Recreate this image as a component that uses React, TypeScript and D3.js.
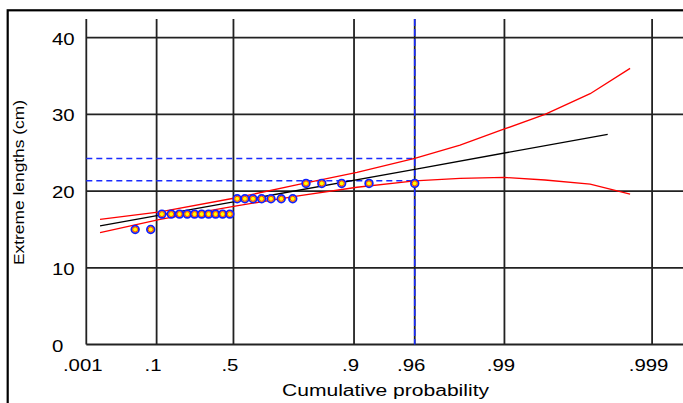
import React from "react";
import * as d3 from "d3";

// Gumbel probability paper: x = -ln(-ln p)
const TICK_P = [0.001, 0.1, 0.5, 0.9, 0.96, 0.99, 0.999];
const TICK_LABELS = [".001", ".1", ".5", ".9", ".96", ".99", ".999"];
const Y_TICKS = [0, 10, 20, 30, 40];

// observed extremes, plotting position i/(n+1)
const OBS_P = [0.04, 0.08, 0.12, 0.16, 0.2, 0.24, 0.28, 0.32, 0.36, 0.4, 0.44, 0.48,
  0.52, 0.56, 0.6, 0.64, 0.68, 0.72, 0.76, 0.8, 0.84, 0.88, 0.92, 0.96];
const OBS_LEN = [15, 15, 17, 17, 17, 17, 17, 17, 17, 17, 17, 17,
  19, 19, 19, 19, 19, 19, 19, 21, 21, 21, 21, 21];

// fitted line
const FIT_P = [0.0038, 0.5, 0.96, 0.998];
const FIT_LEN = [15.46, 18.59, 22.84, 27.4];

// confidence band
const BAND_P = [0.0038, 0.1126, 0.5084, 0.7827, 0.9043, 0.96, 0.9801, 0.99, 0.99468, 0.99737, 0.99859];
const UPPER = [16.3, 17.3, 19.1, 20.9, 22.45, 24.26, 26.0, 28.1, 30.0, 32.7, 36.0];
const LOWER = [14.6, 16.3, 18.05, 19.4, 20.5, 21.34, 21.65, 21.78, 21.45, 20.9, 19.6];

// return level marked on the plot
const REF_P = 0.96;
const REF_UPPER = 24.26;
const REF_LOWER = 21.34;

const W = 683;
const H = 403;
const LEFT = 86.3;
const RIGHT = 652.1;
const TOP = 19;
const FONT = "'Liberation Sans', Arial, sans-serif";

const gumbel = (p: number) => -Math.log(-Math.log(p));

export default function App() {
  const xs = d3.scaleLinear().domain([gumbel(0.001), gumbel(0.999)]).range([LEFT, RIGHT]);
  const X = (p: number) => xs(gumbel(p));
  const y = d3.scaleLinear().domain([0, 40]).range([344.5, 37.7]);
  const y0 = y(0);

  const line = d3.line<[number, number]>().x(d => X(d[0])).y(d => y(d[1]));
  const fit = line(FIT_P.map((p, i) => [p, FIT_LEN[i]]))!;
  const upper = line(BAND_P.map((p, i) => [p, UPPER[i]]))!;
  const lower = line(BAND_P.map((p, i) => [p, LOWER[i]]))!;

  const grid = "#222";

  return (
    <svg width={W} height={H} style={{ position: "absolute", left: 0, top: 0, background: "#fff" }}>
      {/* frame */}
      <rect x={7.7} y={10.3} width={W + 20} height={H + 20} fill="none" stroke="#000" strokeWidth={2.2} />

      {/* grid */}
      {Y_TICKS.map(t => (
        <line key={"h" + t} x1={LEFT} x2={W} y1={y(t)} y2={y(t)} stroke={grid} strokeWidth={1.8} />
      ))}
      {TICK_P.map(p => (
        <line key={"v" + p} x1={X(p)} x2={X(p)} y1={TOP} y2={y0} stroke={grid} strokeWidth={1.8} />
      ))}

      {/* reference lines */}
      <line x1={X(REF_P)} x2={X(REF_P)} y1={TOP} y2={y0} stroke="#1a2cff" strokeWidth={1.6} strokeDasharray="7,3" />
      {[REF_UPPER, REF_LOWER].map(v => (
        <line key={"r" + v} x1={LEFT} x2={X(REF_P)} y1={y(v)} y2={y(v)}
          stroke="#1a2cff" strokeWidth={1.4} strokeDasharray="6,4" />
      ))}

      {/* fit and band */}
      <path d={fit} fill="none" stroke="#000" strokeWidth={1.4} />
      <path d={upper} fill="none" stroke="#ff0000" strokeWidth={1.3} />
      <path d={lower} fill="none" stroke="#ff0000" strokeWidth={1.3} />

      {/* observations */}
      {OBS_P.map((p, i) => (
        <g key={"o" + i}>
          <circle cx={X(p)} cy={y(OBS_LEN[i])} r={3.8} fill="#ffff00" stroke="#1020ff" strokeWidth={1.8} />
          <circle cx={X(p)} cy={y(OBS_LEN[i])} r={2.5} fill="#ffff00" stroke="#ff2020" strokeWidth={0.9} />
        </g>
      ))}

      {/* y tick labels */}
      {Y_TICKS.map(t => (
        <text key={"yl" + t} transform={`translate(52,${y(t) + 7}) scale(1.2,1)`}
          fontFamily={FONT} fontSize={17} fill="#000">{t}</text>
      ))}

      {/* x tick labels */}
      {TICK_P.map((p, i) => (
        <text key={"xl" + p} transform={`translate(${X(p) - 3.5},371) scale(1.2,1)`}
          textAnchor="middle" fontFamily={FONT} fontSize={17} fill="#000">{TICK_LABELS[i]}</text>
      ))}

      {/* axis titles */}
      <text x={385.5} y={396} textAnchor="middle" fontFamily={FONT} fontSize={16}
        textLength={207} lengthAdjust="spacingAndGlyphs" fill="#000">Cumulative probability</text>
      <text transform="translate(23.5,182.5) rotate(-90)" textAnchor="middle" fontFamily={FONT} fontSize={14}
        textLength={165} lengthAdjust="spacingAndGlyphs" fill="#000">Extreme lengths (cm)</text>
    </svg>
  );
}
